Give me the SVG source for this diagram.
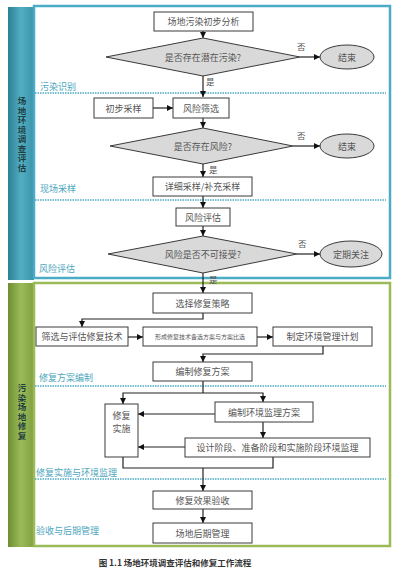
<svg xmlns="http://www.w3.org/2000/svg" width="415" height="575" viewBox="0 0 415 575">
<style>
.box{fill:#fff;stroke:#3a3a3a;stroke-width:1}
.dia{fill:#d9d9d9;stroke:#3a3a3a;stroke-width:1}
.ell{fill:#d9d9d9;stroke:#3a3a3a;stroke-width:1}
.t{font-family:"Noto Sans CJK SC","Noto Sans",sans-serif;font-size:9px;fill:#555;text-anchor:middle}
.ts{font-family:"Noto Sans CJK SC","Noto Sans",sans-serif;font-size:6px;fill:#555;text-anchor:middle}
.lab{font-family:"Noto Sans CJK SC","Noto Sans",sans-serif;font-size:9px;fill:#4ba6bd}
.yn{font-family:"Noto Sans CJK SC","Noto Sans",sans-serif;font-size:8.5px;fill:#555}
.side{font-family:"Noto Sans CJK SC","Noto Sans",sans-serif;font-size:8.5px;font-weight:bold;fill:#1f3f3f;writing-mode:vertical-rl;letter-spacing:1px}
.dot{stroke:#4bacc6;stroke-width:1.6;stroke-dasharray:1.5 1;fill:none}
.ln{stroke:#222;stroke-width:1.2;fill:none}
.ar{stroke:#222;stroke-width:1.2;fill:none;marker-end:url(#ah)}
</style>
<defs>
<marker id="ah" viewBox="0 0 10 10" refX="10" refY="5" markerWidth="6" markerHeight="6" markerUnits="userSpaceOnUse" orient="auto">
<path d="M0,0 L10,5 L0,10 z" fill="#111"/>
</marker>
<linearGradient id="gT" x1="0" y1="0" x2="1" y2="0">
<stop offset="0" stop-color="#2c7f94"/>
<stop offset="0.5" stop-color="#52aec4"/>
<stop offset="1" stop-color="#3b93a8"/>
</linearGradient>
<linearGradient id="gG" x1="0" y1="0" x2="1" y2="0">
<stop offset="0" stop-color="#6f8e33"/>
<stop offset="0.5" stop-color="#9bbb59"/>
<stop offset="1" stop-color="#809f3f"/>
</linearGradient>
</defs>
<rect width="415" height="575" fill="#fff"/>

<g id="frames">
<rect x="8" y="7" width="26" height="273" fill="url(#gT)"/>
<rect x="34" y="6" width="356" height="272" fill="none" stroke="#4bacc6" stroke-width="2.5"/>
<rect x="8" y="283" width="26" height="264" fill="url(#gG)"/>
<rect x="34" y="283" width="356" height="263" fill="none" stroke="#9bbb59" stroke-width="2.5"/>
<text class="side" x="22" y="97">场地环境调查评估</text>
<text class="side" x="22" y="384">污染场地修复</text>
</g>

<g id="sections">
<path class="dot" d="M35 93 H386"/>
<path class="dot" d="M35 200 H386"/>
<path class="dot" d="M35 386 H386"/>
<path class="dot" d="M35 479 H386"/>
<text class="lab" x="40" y="90">污染识别</text>
<text class="lab" x="40" y="192">现场采样</text>
<text class="lab" x="39" y="272">风险评估</text>
<text class="lab" x="39" y="381">修复方案编制</text>
<text class="lab" x="36" y="476">修复实施与环境监理</text>
<text class="lab" x="36" y="534">验收与后期管理</text>
</g>

<g id="connectors">
<path class="ar" d="M203 31 V38"/>
<path class="ar" d="M203 76 V97"/>
<path class="ar" d="M300 57 H320"/>
<path class="ar" d="M153 108 H173"/>
<path class="ar" d="M203 118 V128"/>
<path class="ar" d="M293 146 H320"/>
<path class="ar" d="M203 164 V177"/>
<path class="ar" d="M203 196 V208"/>
<path class="ar" d="M203 226 V236"/>
<path class="ar" d="M297 254 H320"/>
<path class="ar" d="M203 273 V293"/>
<path class="ar" d="M203 313 V319 H82 V327"/>
<path class="ar" d="M128 337 H143"/>
<path class="ar" d="M257 337 H273"/>
<path class="ar" d="M323 346 V354 H203 V362"/>
<path class="ln" d="M203 381 V393"/>
<path class="ar" d="M203 393 H123 V404"/>
<path class="ar" d="M203 393 H263 V402"/>
<path class="ar" d="M215 414 H138"/>
<path class="ar" d="M263 422 V438"/>
<path class="ar" d="M185 447 H138"/>
<path class="ln" d="M123 457 V468 H273 V457"/>
<path class="ar" d="M203 468 V491"/>
<path class="ar" d="M203 509 V523"/>
<text class="yn" x="297" y="50">否</text>
<text class="yn" x="206" y="85">是</text>
<text class="yn" x="297" y="139">否</text>
<text class="yn" x="209" y="173">是</text>
<text class="yn" x="298" y="247">否</text>
<text class="yn" x="209" y="283">是</text>
</g>

<g id="n1"><rect class="box" x="154" y="12" width="99" height="19"/><text class="t" x="203.5" y="25">场地污染初步分析</text></g>
<g id="n2"><polygon class="dia" points="106,57 203,38 300,57 203,76"/><text class="t" x="203" y="60.5">是否存在潜在污染?</text></g>
<g id="n3"><ellipse class="ell" cx="347" cy="57" rx="27" ry="12"/><text class="t" x="347" y="60.5">结束</text></g>
<g id="n4"><rect class="box" x="94" y="98" width="59" height="20"/><text class="t" x="123.5" y="111.5">初步采样</text></g>
<g id="n5"><rect class="box" x="173" y="98" width="56" height="20"/><text class="t" x="201" y="111.5">风险筛选</text></g>
<g id="n6"><polygon class="dia" points="110,146 203,128 293,146 203,164"/><text class="t" x="203" y="149.5">是否存在风险?</text></g>
<g id="n7"><ellipse class="ell" cx="347" cy="146" rx="27" ry="12"/><text class="t" x="347" y="149.5">结束</text></g>
<g id="n8"><rect class="box" x="153" y="177" width="99" height="19"/><text class="t" x="202.5" y="190">详细采样/补充采样</text></g>
<g id="n9"><rect class="box" x="176" y="208" width="54" height="18"/><text class="t" x="203" y="220.5">风险评估</text></g>
<g id="n10"><polygon class="dia" points="108,254 203,236 297,254 203,273"/><text class="t" x="203" y="257.5">风险是否不可接受?</text></g>
<g id="n11"><ellipse class="ell" cx="351" cy="254" rx="31" ry="13"/><text class="t" x="351" y="257.5">定期关注</text></g>

<g id="n12"><rect class="box" x="153" y="293" width="99" height="20"/><text class="t" x="202.5" y="306.5">选择修复策略</text></g>
<g id="n13"><rect class="box" x="36" y="327" width="92" height="19"/><text class="t" x="82" y="340">筛选与评估修复技术</text></g>
<g id="n14"><rect class="box" x="143" y="327" width="114" height="19"/><text class="ts" x="200" y="339">形成修复技术备选方案与方案比选</text></g>
<g id="n15"><rect class="box" x="273" y="327" width="99" height="19"/><text class="t" x="322.5" y="340">制定环境管理计划</text></g>
<g id="n16"><rect class="box" x="153" y="362" width="99" height="19"/><text class="t" x="202.5" y="375">编制修复方案</text></g>
<g id="n17"><rect class="box" x="105" y="404" width="33" height="53"/><text class="t" x="121.5" y="419">修复</text><text class="t" x="121.5" y="432">实施</text></g>
<g id="n18"><rect class="box" x="215" y="402" width="98" height="20"/><text class="t" x="264" y="415.5">编制环境监理方案</text></g>
<g id="n19"><rect class="box" x="185" y="438" width="185" height="19"/><text class="t" x="277.5" y="451">设计阶段、准备阶段和实施阶段环境监理</text></g>
<g id="n20"><rect class="box" x="153" y="491" width="99" height="18"/><text class="t" x="202.5" y="503.5">修复效果验收</text></g>
<g id="n21"><rect class="box" x="153" y="523" width="99" height="20"/><text class="t" x="202.5" y="536.5">场地后期管理</text></g>

<text x="175" y="566" font-family="'Noto Sans CJK SC','Noto Sans',sans-serif" font-size="8.5" font-weight="bold" fill="#333" text-anchor="middle">图 1.1 场地环境调查评估和修复工作流程</text>
</svg>
